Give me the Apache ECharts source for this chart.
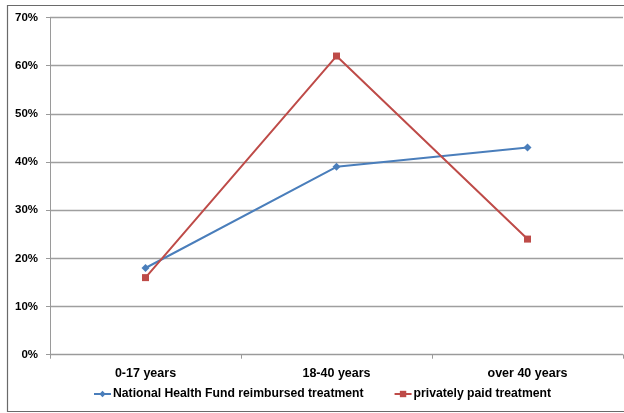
<!DOCTYPE html>
<html><head><meta charset="utf-8">
<script src="https://cdn.jsdelivr.net/npm/echarts@6/dist/echarts.min.js"></script>
<style>html,body{margin:0;padding:0;background:#fff}#c{width:624px;height:413px}</style>
</head><body><div id="c"></div>
<script>
const categories = ['0-17 years', '18-40 years', 'over 40 years'];
const nhfValues = [18, 39, 43];
const privateValues = [16, 62, 24];
const seriesNames = ['National Health Fund reimbursed treatment', 'privately paid treatment'];

const chart = echarts.init(document.getElementById('c'), null, {renderer: 'canvas'});
const font = 'Liberation Sans';
chart.setOption({
  animation: false,
  backgroundColor: '#fff',
  graphic: [{
    type: 'rect', shape: {x: 7.5, y: 5.5, width: 630, height: 406},
    style: {fill: 'none', stroke: '#6a6a6a', lineWidth: 1.2}, z: -1
  }],
  grid: {left: 50, right: 1, top: 17.5, bottom: 58.3},
  legend: {
    bottom: 8, left: 88, itemGap: 30, itemWidth: 17, itemHeight: 8,
    textStyle: {fontFamily: font, fontWeight: 'bold', fontSize: 12.2, color: '#000', padding: [0, 0, 0, -3]},
    data: seriesNames
  },
  xAxis: {
    type: 'category', data: categories, boundaryGap: true,
    axisLine: {lineStyle: {color: '#9a9a9a', width: 1}},
    axisTick: {show: true, length: 4, lineStyle: {color: '#9a9a9a'}},
    axisLabel: {margin: 12, fontFamily: font, fontWeight: 'bold', fontSize: 12.5, color: '#000'}
  },
  yAxis: {
    type: 'value', min: 0, max: 70, interval: 10,
    axisLine: {show: true, lineStyle: {color: '#9a9a9a', width: 1}},
    axisTick: {show: true, length: 4, lineStyle: {color: '#9a9a9a'}},
    axisLabel: {margin: 12, formatter: '{value}%', fontFamily: font, fontWeight: 'bold', fontSize: 11.5, color: '#000'},
    splitLine: {lineStyle: {color: '#9f9f9f', width: 1.3}}
  },
  series: [{
    name: seriesNames[0], type: 'line', data: nhfValues,
    symbol: 'diamond', symbolSize: 8,
    lineStyle: {color: '#4a7ebb', width: 2},
    itemStyle: {color: '#4a7ebb'}
  }, {
    name: seriesNames[1], type: 'line', data: privateValues,
    symbol: 'rect', symbolSize: 7,
    lineStyle: {color: '#be4b48', width: 2},
    itemStyle: {color: '#be4b48'}
  }]
});
</script></body></html>
